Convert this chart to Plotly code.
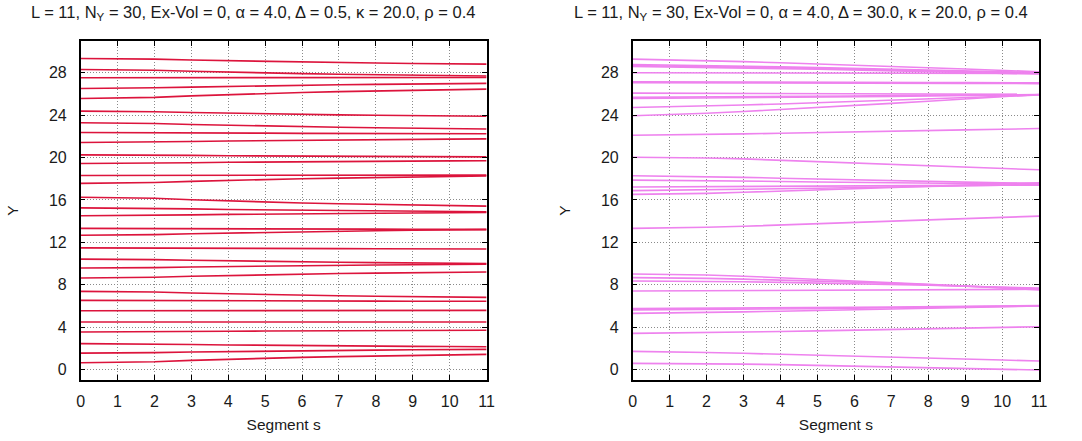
import plotly.graph_objects as go

segments = list(range(12))

left_title = "L = 11, N<sub>Y</sub> = 30, Ex-Vol = 0, α = 4.0, Δ = 0.5, κ = 20.0, ρ = 0.4"
right_title = "L = 11, N<sub>Y</sub> = 30, Ex-Vol = 0, α = 4.0, Δ = 30.0, κ = 20.0, ρ = 0.4"

x_ticks = list(range(12))
y_ticks = [0, 4, 8, 12, 16, 20, 24, 28]

# Delta = 0.5 (left panel): Y position of each chain along the segments
left_lines = [
    [29.35, 29.34, 29.29, 29.20, 29.13, 29.06, 29.01, 28.96, 28.92, 28.88, 28.85, 28.82],
    [28.31, 28.30, 28.24, 28.14, 28.05, 27.98, 27.92, 27.86, 27.82, 27.77, 27.74, 27.70],
    [27.53, 27.53, 27.53, 27.54, 27.54, 27.55, 27.55, 27.55, 27.56, 27.56, 27.56, 27.56],
    [26.52, 26.53, 26.58, 26.65, 26.72, 26.78, 26.83, 26.87, 26.91, 26.94, 26.97, 27.00],
    [25.57, 25.59, 25.68, 25.82, 25.94, 26.05, 26.14, 26.22, 26.29, 26.35, 26.41, 26.46],
    [24.38, 24.37, 24.32, 24.25, 24.18, 24.12, 24.07, 24.03, 23.99, 23.96, 23.93, 23.90],
    [23.28, 23.27, 23.21, 23.12, 23.04, 22.97, 22.91, 22.86, 22.81, 22.77, 22.73, 22.70],
    [22.36, 22.36, 22.35, 22.33, 22.31, 22.30, 22.28, 22.27, 22.26, 22.25, 22.25, 22.24],
    [21.42, 21.43, 21.46, 21.52, 21.56, 21.60, 21.64, 21.67, 21.70, 21.72, 21.74, 21.76],
    [20.25, 20.25, 20.23, 20.20, 20.17, 20.15, 20.13, 20.11, 20.10, 20.08, 20.07, 20.06],
    [19.44, 19.45, 19.47, 19.51, 19.55, 19.58, 19.60, 19.62, 19.64, 19.66, 19.68, 19.69],
    [18.31, 18.31, 18.31, 18.32, 18.32, 18.33, 18.33, 18.33, 18.33, 18.34, 18.34, 18.34],
    [17.56, 17.57, 17.64, 17.75, 17.85, 17.93, 18.00, 18.06, 18.12, 18.17, 18.21, 18.25],
    [16.25, 16.23, 16.15, 16.01, 15.90, 15.80, 15.71, 15.64, 15.57, 15.51, 15.46, 15.41],
    [15.25, 15.24, 15.21, 15.15, 15.09, 15.05, 15.01, 14.98, 14.95, 14.92, 14.90, 14.88],
    [14.50, 14.51, 14.54, 14.59, 14.63, 14.67, 14.70, 14.73, 14.75, 14.77, 14.79, 14.81],
    [13.31, 13.31, 13.30, 13.28, 13.27, 13.26, 13.25, 13.24, 13.24, 13.23, 13.23, 13.22],
    [12.66, 12.67, 12.72, 12.81, 12.88, 12.95, 13.00, 13.05, 13.09, 13.13, 13.16, 13.19],
    [11.47, 11.47, 11.46, 11.44, 11.43, 11.42, 11.41, 11.40, 11.39, 11.38, 11.38, 11.37],
    [10.41, 10.40, 10.36, 10.30, 10.24, 10.19, 10.15, 10.11, 10.08, 10.05, 10.02, 10.00],
    [9.57, 9.58, 9.61, 9.67, 9.72, 9.76, 9.79, 9.83, 9.85, 9.88, 9.90, 9.92],
    [8.63, 8.64, 8.70, 8.79, 8.87, 8.94, 9.00, 9.05, 9.09, 9.13, 9.17, 9.20],
    [7.37, 7.36, 7.30, 7.21, 7.13, 7.06, 7.01, 6.95, 6.91, 6.87, 6.83, 6.80],
    [6.52, 6.52, 6.51, 6.49, 6.48, 6.47, 6.46, 6.45, 6.45, 6.44, 6.44, 6.43],
    [5.54, 5.54, 5.54, 5.55, 5.55, 5.56, 5.56, 5.56, 5.56, 5.57, 5.57, 5.57],
    [4.47, 4.47, 4.47, 4.47, 4.47, 4.47, 4.47, 4.47, 4.47, 4.47, 4.47, 4.47],
    [3.53, 3.53, 3.55, 3.57, 3.60, 3.62, 3.63, 3.65, 3.66, 3.67, 3.68, 3.69],
    [2.43, 2.42, 2.40, 2.35, 2.31, 2.27, 2.24, 2.22, 2.20, 2.17, 2.16, 2.14],
    [1.54, 1.55, 1.58, 1.64, 1.69, 1.73, 1.76, 1.80, 1.82, 1.85, 1.87, 1.89],
    [0.63, 0.65, 0.72, 0.85, 0.96, 1.06, 1.14, 1.21, 1.27, 1.33, 1.37, 1.42],
]

# Delta = 30.0 (right panel)
right_lines = [
    [29.29, 29.23, 29.15, 29.05, 28.94, 28.84, 28.72, 28.60, 28.48, 28.35, 28.23, 28.10],
    [28.78, 28.74, 28.69, 28.63, 28.56, 28.49, 28.42, 28.34, 28.26, 28.18, 28.10, 28.02],
    [28.68, 28.64, 28.59, 28.53, 28.47, 28.40, 28.33, 28.26, 28.18, 28.10, 28.03, 27.95],
    [28.60, 28.56, 28.51, 28.46, 28.39, 28.33, 28.25, 28.18, 28.11, 28.03, 27.96, 27.88],
    [28.00, 28.00, 27.99, 27.99, 27.98, 27.98, 27.97, 27.97, 27.96, 27.95, 27.95, 27.94],
    [27.15, 27.15, 27.14, 27.13, 27.12, 27.11, 27.10, 27.09, 27.08, 27.07, 27.06, 27.05],
    [27.07, 27.07, 27.06, 27.05, 27.04, 27.04, 27.03, 27.02, 27.01, 27.00, 26.99, 26.98],
    [26.08, 26.07, 26.07, 26.06, 26.05, 26.04, 26.03, 26.02, 26.01, 25.99, 25.98, 25.97],
    [25.68, 25.69, 25.71, 25.73, 25.76, 25.78, 25.81, 25.84, 25.86, 25.89, 25.92, 25.95],
    [25.57, 25.59, 25.61, 25.64, 25.67, 25.70, 25.74, 25.77, 25.81, 25.85, 25.88, 25.92],
    [24.72, 24.78, 24.86, 24.96, 25.06, 25.17, 25.29, 25.40, 25.52, 25.65, 25.77, 25.90],
    [23.94, 24.04, 24.18, 24.34, 24.52, 24.70, 24.90, 25.11, 25.31, 25.53, 25.73, 25.95],
    [22.10, 22.13, 22.18, 22.23, 22.29, 22.34, 22.41, 22.47, 22.54, 22.61, 22.67, 22.74],
    [20.03, 20.01, 19.96, 19.87, 19.74, 19.60, 19.46, 19.32, 19.18, 19.06, 18.95, 18.84],
    [18.28, 18.25, 18.20, 18.13, 18.05, 17.97, 17.89, 17.81, 17.74, 17.67, 17.61, 17.56],
    [17.87, 17.85, 17.82, 17.78, 17.74, 17.69, 17.65, 17.61, 17.57, 17.53, 17.50, 17.48],
    [17.22, 17.23, 17.24, 17.26, 17.27, 17.29, 17.31, 17.33, 17.35, 17.37, 17.39, 17.40],
    [16.88, 16.91, 16.95, 16.99, 17.05, 17.10, 17.15, 17.21, 17.27, 17.33, 17.39, 17.45],
    [16.52, 16.55, 16.62, 16.72, 16.83, 16.94, 17.05, 17.16, 17.27, 17.39, 17.50, 17.62],
    [13.31, 13.35, 13.42, 13.51, 13.62, 13.73, 13.85, 13.97, 14.10, 14.23, 14.35, 14.47],
    [9.00, 8.98, 8.91, 8.80, 8.66, 8.51, 8.36, 8.20, 8.04, 7.87, 7.70, 7.50],
    [8.66, 8.64, 8.59, 8.52, 8.44, 8.34, 8.24, 8.12, 8.00, 7.86, 7.73, 7.60],
    [8.35, 8.34, 8.31, 8.27, 8.22, 8.16, 8.09, 8.02, 7.94, 7.85, 7.77, 7.68],
    [7.40, 7.41, 7.42, 7.43, 7.45, 7.46, 7.48, 7.50, 7.51, 7.53, 7.55, 7.56],
    [5.74, 5.75, 5.76, 5.78, 5.80, 5.83, 5.86, 5.89, 5.92, 5.95, 5.99, 6.03],
    [5.62, 5.63, 5.65, 5.67, 5.70, 5.73, 5.77, 5.81, 5.85, 5.90, 5.95, 6.00],
    [5.29, 5.32, 5.37, 5.43, 5.49, 5.55, 5.62, 5.69, 5.76, 5.84, 5.91, 5.98],
    [3.40, 3.43, 3.48, 3.53, 3.58, 3.64, 3.70, 3.76, 3.83, 3.90, 3.96, 4.03],
    [1.70, 1.67, 1.60, 1.52, 1.44, 1.35, 1.26, 1.17, 1.08, 0.99, 0.89, 0.79],
    [0.57, 0.56, 0.54, 0.50, 0.45, 0.38, 0.31, 0.22, 0.14, 0.07, 0.01, -0.06],
]

LEFT_COLOR = "#dc143c"
RIGHT_COLOR = "#ee82ee"
FONT = "Liberation Sans, Arial, Helvetica, sans-serif"
TXT = "#1a1a1a"

fig = go.Figure()
for ys in left_lines:
    fig.add_trace(go.Scatter(x=segments, y=ys, mode="lines", xaxis="x", yaxis="y",
                             line=dict(color=LEFT_COLOR, width=1.6), showlegend=False,
                             hoverinfo="skip"))
for ys in right_lines:
    fig.add_trace(go.Scatter(x=segments, y=ys, mode="lines", xaxis="x2", yaxis="y2",
                             line=dict(color=RIGHT_COLOR, width=1.6), showlegend=False,
                             hoverinfo="skip"))

W, H = 1082, 441
ytop, ybot = 41, 380
ydom = [(H - ybot) / H, (H - ytop) / H]

def xaxis(dom, anchor):
    return dict(domain=dom, anchor=anchor, range=[0, 11], tickvals=x_ticks,
                ticktext=[str(v) for v in x_ticks],
                showline=True, linecolor="black", linewidth=1.5, mirror="allticks",
                ticks="inside", ticklen=5, tickcolor="black", tickwidth=1,
                showgrid=True, gridcolor="#8a8a8a", griddash="1px,2px", gridwidth=1,
                zeroline=False, tickfont=dict(size=16, color=TXT),
                ticklabelstandoff=6,
                title=dict(text="Segment s", font=dict(size=15.5, color=TXT), standoff=10),
                fixedrange=True)

def yaxis(anchor):
    return dict(domain=ydom, anchor=anchor, range=[-1, 31], tickvals=y_ticks,
                ticktext=[str(v) for v in y_ticks],
                showline=True, linecolor="black", linewidth=1.5, mirror="allticks",
                ticks="inside", ticklen=5, tickcolor="black", tickwidth=1,
                showgrid=True, gridcolor="#8a8a8a", griddash="1px,2px", gridwidth=1,
                zeroline=False, tickfont=dict(size=16, color=TXT),
                ticklabelstandoff=9,
                title=dict(text="Y", font=dict(size=15.5, color=TXT), standoff=26),
                fixedrange=True)

fig.update_layout(
    width=W, height=H,
    margin=dict(l=0, r=0, t=0, b=0),
    paper_bgcolor="white", plot_bgcolor="white",
    font=dict(family=FONT, size=15.5, color=TXT),
    xaxis=xaxis([77.5 / W, 488 / W], "y"),
    yaxis=yaxis("x"),
    xaxis2=xaxis([635.7 / W, 1046.7 / W], "y2"),
    yaxis2=yaxis("x2"),
    annotations=[
        dict(text=left_title, x=252 / W, y=1 - 13 / H, xref="paper", yref="paper",
             xanchor="center", yanchor="middle", showarrow=False,
             font=dict(size=16.5, color=TXT)),
        dict(text=right_title, x=806 / W, y=1 - 13 / H, xref="paper", yref="paper",
             xanchor="center", yanchor="middle", showarrow=False,
             font=dict(size=16.5, color=TXT)),
    ],
)

fig.write_html("out.html")
